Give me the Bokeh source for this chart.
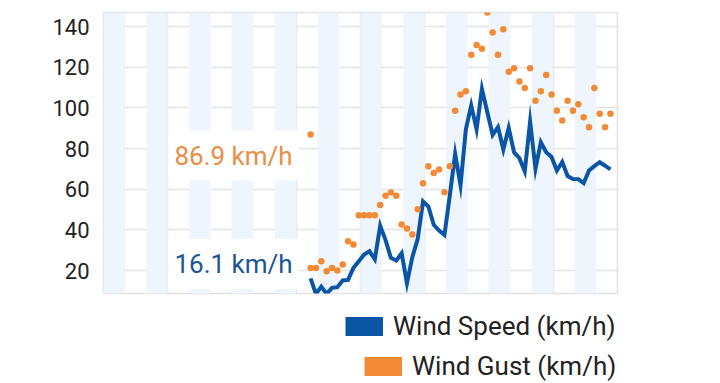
from bokeh.plotting import figure
from bokeh.layouts import column
from bokeh.models import (BoxAnnotation, FixedTicker, Label, Legend, LegendItem,
                          Range1d)
from bokeh.embed import file_html
from bokeh.resources import INLINE

# ---- data (hours of the day, km/h) ----
times = [9.67, 9.92, 10.17, 10.42, 10.67, 10.92, 11.17, 11.42, 11.67, 11.92,
         12.17, 12.42, 12.67, 12.92, 13.17, 13.42, 13.67, 13.92, 14.17, 14.42,
         14.67, 14.92, 15.17, 15.42, 15.67, 15.92, 16.17, 16.42, 16.67, 16.92,
         17.17, 17.42, 17.67, 17.92, 18.17, 18.42, 18.67, 18.92, 19.17, 19.42,
         19.67, 19.92, 20.17, 20.42, 20.67, 20.92, 21.17, 21.42, 21.67, 21.92,
         22.17, 22.42, 22.67, 22.92, 23.17, 23.42, 23.67]
wind_speed = [16.1, 8.5, 12.1, 8.5, 11.5, 11.8, 15.1, 15.4, 21.3, 24.6,
              27.9, 29.5, 25.6, 42.0, 35.0, 26.2, 24.9, 28.5, 13.8, 26.6,
              35.5, 54.0, 51.5, 42.5, 39.7, 37.5, 57.0, 77.4, 62.0, 89.5,
              101.3, 89.5, 109.4, 98.0, 86.8, 90.6, 79.6, 90.2, 78.2, 75.3,
              68.8, 93.4, 70.1, 83.1, 78.2, 75.9, 69.2, 73.4, 66.5, 65.1,
              65.0, 63.0, 69.3, 71.4, 73.3, 71.6, 69.8]
wind_gust = [21.3, 21.3, 24.6, 19.7, 21.3, 20.0, 23.0, 34.4, 32.8, 47.2,
             47.2, 47.2, 47.2, 52.2, 56.8, 58.4, 56.8, 42.6, 40.7, 37.7,
             50.2, 63.0, 71.3, 68.0, 69.7, 58.5, 71.3, 98.7, 106.6, 108.3,
             126.2, 131.0, 129.1, 147.0, 137.2, 126.2, 138.8, 117.9, 119.6, 113.1,
             109.8, 119.6, 103.6, 108.3, 116.3, 106.6, 98.7, 93.8, 103.6, 98.7,
             101.8, 95.4, 90.5, 109.8, 97.2, 90.5, 97.2]
hover_time = 9.67
hover_speed = 16.1
hover_gust = 86.9
band_hours = [0, 2, 4, 6, 8, 10, 12, 14, 16, 18, 20, 22]
grid_hours = [0, 3, 6, 9, 12, 15, 18, 21, 24]
y_ticks = [20, 40, 60, 80, 100, 120, 140]

BLUE = "#0b55a6"
ORANGE = "#f28b36"
FONT = "Roboto"

p = figure(width=720, height=300, output_backend="svg", toolbar_location=None,
           x_range=Range1d(0, 24), y_range=Range1d(8.7, 147.0),
           x_axis_location=None,
           min_border_left=103, min_border_right=103, min_border_top=12,
           min_border_bottom=7)
p.background_fill_color = "white"
p.border_fill_color = "white"
p.outline_line_color = "#e2e2e2"
p.outline_line_width = 1.5

for h in band_hours:
    p.add_layout(BoxAnnotation(left=h, right=h + 1, fill_color="#eef5fc",
                               fill_alpha=1.0, line_color=None, level="underlay"))

p.xgrid.ticker = FixedTicker(ticks=grid_hours)
p.xgrid.grid_line_color = "#e4e4e4"
p.xgrid.grid_line_width = 1.5
p.ygrid.ticker = FixedTicker(ticks=y_ticks)
p.ygrid.grid_line_color = "#e4e4e4"
p.ygrid.grid_line_width = 1.5

p.yaxis.ticker = FixedTicker(ticks=y_ticks)
p.yaxis.axis_line_color = None
p.yaxis.major_tick_line_color = None
p.yaxis.minor_tick_line_color = None
p.yaxis.major_label_text_font = FONT
p.yaxis.major_label_text_font_size = "22px"
p.yaxis.major_label_text_color = "#222222"
p.yaxis.major_label_standoff = 8

p.line(times, wind_speed, line_color=BLUE, line_width=4, line_join="miter")
p.scatter(times, wind_gust, size=6.5, color=ORANGE, line_color=None)
p.scatter([hover_time], [hover_gust], size=6.5, color=ORANGE, line_color=None)

lab_g = Label(x=hover_time, y=hover_gust, text=f"{hover_gust} km/h",
              text_font=FONT, text_font_size="26px", text_color="#ea8d45",
              text_align="right", text_baseline="middle", x_offset=-12,
              y_offset=-21, background_fill_color="white", background_fill_alpha=1,
              padding=(6, 6, 10, 10))
lab_s = Label(x=hover_time, y=hover_speed, text=f"{hover_speed} km/h",
              text_font=FONT, text_font_size="26px", text_color="#1a5596",
              text_align="right", text_baseline="middle", x_offset=-12,
              y_offset=14.5, background_fill_color="white", background_fill_alpha=1,
              padding=(6, 6, 10, 10))
p.add_layout(lab_g)
p.add_layout(lab_s)

# ---- legend strip below the chart (its frame is aligned with the chart's) ----
q = figure(width=720, height=83, output_backend="svg", toolbar_location=None,
           x_range=Range1d(0, 1), y_range=Range1d(0, 1),
           x_axis_location=None, y_axis_location=None,
           min_border_left=0, min_border_right=0, min_border_top=0,
           min_border_bottom=0)
q.outline_line_color = None
q.xgrid.visible = False
q.ygrid.visible = False
q.background_fill_color = "white"
q.border_fill_color = "white"

nan = float("nan")
sw_speed = q.line(x=[nan], y=[nan], line_color=BLUE, line_width=19, line_cap="butt")
sw_gust = q.line(x=[nan], y=[nan], line_color=ORANGE, line_width=19, line_cap="butt")

def make_legend(label, r, loc):
    return Legend(items=[LegendItem(label=label, renderers=[r])], location=loc,
                  glyph_width=38, glyph_height=30, label_height=30,
                  label_standoff=10, label_text_font=FONT,
                  label_text_font_size="26px", label_text_color="#222222",
                  padding=0, margin=0, spacing=0, border_line_color=None,
                  background_fill_alpha=0)

q.add_layout(make_legend("Wind Speed (km/h)", sw_speed, (242, 42.5)))
q.add_layout(make_legend("Wind Gust (km/h)", sw_gust, (261, 2.5)))

layout = column(p, q, spacing=0)
open("out.html", "w").write(file_html(layout, INLINE))
